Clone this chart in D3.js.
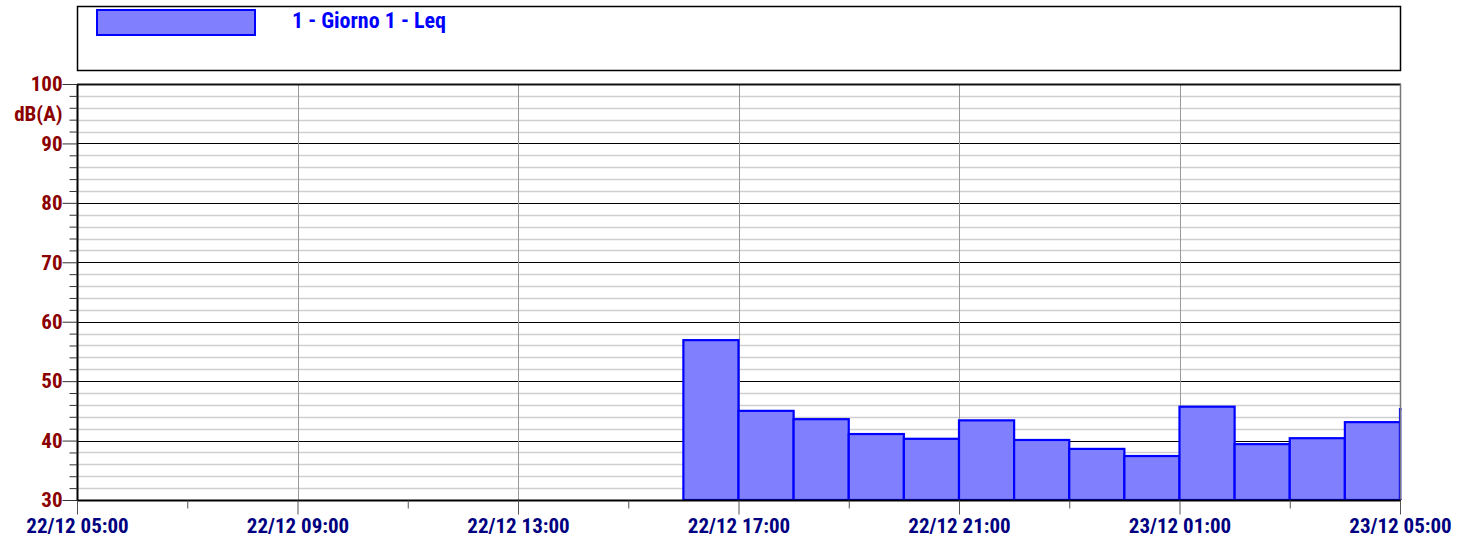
<!DOCTYPE html>
<html>
<head>
<meta charset="utf-8">
<script src="https://cdn.jsdelivr.net/npm/d3@7"></script>
<style>
  body { margin: 0; background: #fff; }
  svg text { font-family: "Liberation Sans Narrow", "Roboto Condensed", "DejaVu Sans Condensed", sans-serif; font-weight: bold; }
</style>
</head>
<body>
<svg id="chart"></svg>
<script>
// series: hourly Leq, start hour of each interval
var seriesName = "1 - Giorno 1 - Leq";
var startTimes = ["2020-12-22T16:00", "2020-12-22T17:00", "2020-12-22T18:00", "2020-12-22T19:00",
  "2020-12-22T20:00", "2020-12-22T21:00", "2020-12-22T22:00", "2020-12-22T23:00",
  "2020-12-23T00:00", "2020-12-23T01:00", "2020-12-23T02:00", "2020-12-23T03:00",
  "2020-12-23T04:00", "2020-12-23T05:00"];
var leqValues = [56.9, 45.0, 43.6, 41.1, 40.3, 43.4, 40.1, 38.6, 37.4, 45.7, 39.4, 40.4, 43.1, 45.3];

var xDomain = ["2020-12-22T05:00", "2020-12-23T05:00"];
var yDomain = [30, 100];
var yTicks = [30, 40, 50, 60, 70, 80, 90, 100];
var yUnit = "dB(A)";

var config = {
  w: 1468,
  h: 543,
  left: 77,
  right: 1400,
  top: 84,
  bottom: 500
};

var parse = d3.timeParse("%Y-%m-%dT%H:%M");
var fmt = d3.timeFormat("%d/%m %H:%M");

var data = startTimes.map(function(t, i) {
  var s = parse(t);
  return { start: s, end: d3.timeHour.offset(s, 1), value: leqValues[i] };
});

var x = d3.scaleTime()
  .domain(xDomain.map(parse))
  .range([config.left, config.right]);

var y = d3.scaleLinear()
  .domain(yDomain)
  .range([config.bottom, config.top]);

// hours counted from the start of the axis
var hourIndex = function(d) { return Math.round((d - x.domain()[0]) / 3600000); };
var allHours = d3.timeHour.range(x.domain()[0], d3.timeMinute.offset(x.domain()[1], 1));
var majorX = allHours.filter(function(d) { return hourIndex(d) % 4 == 0; });
var minorX = allHours.filter(function(d) { return hourIndex(d) % 2 == 0; });

var svg = d3.select("#chart")
  .attr("width", config.w)
  .attr("height", config.h);

// legend box
var legend = svg.append("g");
legend.append("rect")
  .attr("x", config.left + 0.5).attr("y", 6.5)
  .attr("width", config.right - config.left).attr("height", 64)
  .attr("fill", "#fff").attr("stroke", "#000").attr("stroke-width", 1.5);
legend.append("rect")
  .attr("x", 97).attr("y", 10)
  .attr("width", 158).attr("height", 25)
  .attr("fill", "#8080ff").attr("stroke", "#0000ff").attr("stroke-width", 2);
legend.append("text")
  .attr("x", 292).attr("y", 28)
  .attr("fill", "#0000ff").attr("font-size", 22)
  .text(seriesName);

// horizontal grid
var minorY = d3.range(yDomain[0], yDomain[1] + 0.1, 2);
svg.append("g").selectAll("line")
  .data(minorY.filter(function(v) { return v % 10 != 0; }))
  .enter().append("line")
  .attr("x1", config.left).attr("x2", config.right)
  .attr("y1", function(d) { return Math.round(y(d)) + 0.5; })
  .attr("y2", function(d) { return Math.round(y(d)) + 0.5; })
  .attr("stroke", "#cfcfcf").attr("stroke-width", 1.5);

svg.append("g").selectAll("line")
  .data(yTicks)
  .enter().append("line")
  .attr("x1", config.left).attr("x2", config.right)
  .attr("y1", function(d) { return Math.round(y(d)) + 0.5; })
  .attr("y2", function(d) { return Math.round(y(d)) + 0.5; })
  .attr("stroke", "#000").attr("stroke-width", 1);

// vertical grid every 4 hours
svg.append("g").selectAll("line")
  .data(majorX.slice(1, -1))
  .enter().append("line")
  .attr("x1", function(d) { return Math.round(x(d)) + 0.5; })
  .attr("x2", function(d) { return Math.round(x(d)) + 0.5; })
  .attr("y1", config.top).attr("y2", config.bottom)
  .attr("stroke", "#999").attr("stroke-width", 1);

// bars
svg.append("clipPath").attr("id", "plotclip")
  .append("rect")
  .attr("x", config.left).attr("y", config.top - 2)
  .attr("width", config.right - config.left + 1.5)
  .attr("height", config.bottom - config.top + 2);

svg.append("g")
  .attr("clip-path", "url(#plotclip)")
  .selectAll("rect")
  .data(data)
  .enter().append("rect")
  .attr("x", function(d) { return x(d.start); })
  .attr("y", function(d) { return y(d.value); })
  .attr("width", function(d) { return x(d.end) - x(d.start); })
  .attr("height", function(d) { return config.bottom - y(d.value); })
  .attr("fill", "#8080ff")
  .attr("stroke", "#0000ff")
  .attr("stroke-width", 2.2);

// frame
svg.append("line")
  .attr("x1", config.left).attr("x2", config.right + 1)
  .attr("y1", config.top + 0.5).attr("y2", config.top + 0.5)
  .attr("stroke", "#111").attr("stroke-width", 2);
svg.append("line")
  .attr("x1", config.right + 0.5).attr("x2", config.right + 0.5)
  .attr("y1", config.top).attr("y2", config.bottom)
  .attr("stroke", "#777").attr("stroke-width", 1.5);

// y axis
var yAxis = d3.axisLeft(y)
  .tickValues(minorY)
  .tickSize(8)
  .tickFormat(function(d) { return d % 10 == 0 ? d : ""; });
var gy = svg.append("g")
  .attr("transform", "translate(" + (config.left + 0.5) + ",0)")
  .call(yAxis);
gy.select(".domain").attr("stroke", "#000").attr("stroke-width", 2).attr("d", "M0," + config.top + "V" + config.bottom);
gy.selectAll(".tick line").attr("stroke", "#333")
  .attr("x2", function(d) { return d % 10 == 0 ? -15 : -8; });
gy.selectAll(".tick text")
  .attr("x", -15)
  .attr("font-size", 21)
  .attr("fill", "#8b0000");
gy.append("text")
  .attr("x", -15).attr("y", y(95) + 1)
  .attr("dy", "0.32em")
  .attr("text-anchor", "end")
  .attr("font-size", 21)
  .attr("fill", "#8b0000")
  .text(yUnit);

// x axis
var xAxis = d3.axisBottom(x)
  .tickValues(minorX)
  .tickSize(8)
  .tickFormat(function(d) { return hourIndex(d) % 4 == 0 ? fmt(d) : ""; });
var gx = svg.append("g")
  .attr("transform", "translate(0," + (config.bottom + 0.5) + ")")
  .call(xAxis);
gx.select(".domain").attr("stroke", "#000").attr("stroke-width", 2).attr("d", "M" + config.left + ",0H" + (config.right + 1));
gx.selectAll(".tick line").attr("stroke", "#555")
  .attr("y2", function(d) { return hourIndex(d) % 4 == 0 ? 14 : 8; });
gx.selectAll(".tick text")
  .attr("y", 18)
  .attr("font-size", 21)
  .attr("fill", "#000080");
</script>
</body>
</html>
